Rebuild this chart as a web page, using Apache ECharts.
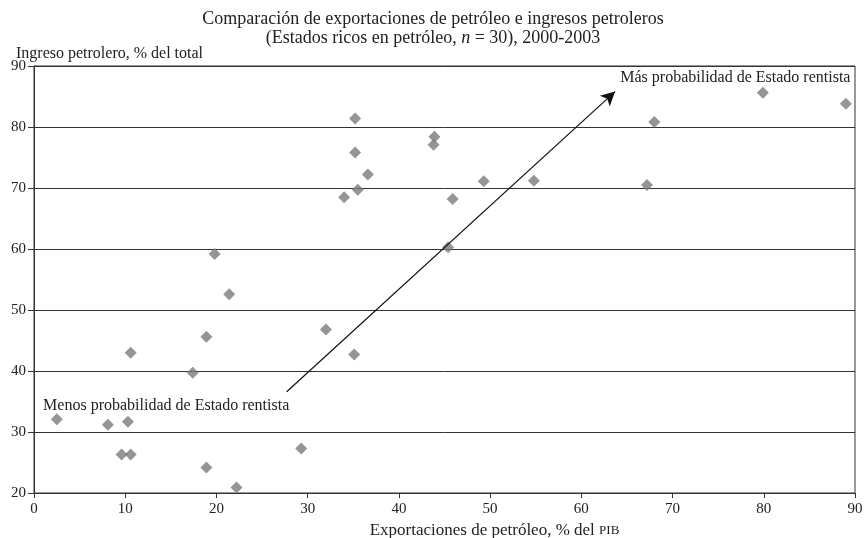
<!DOCTYPE html>
<html><head><meta charset="utf-8">
<script src="https://cdn.jsdelivr.net/npm/echarts@6/dist/echarts.min.js"></script>
<style>html,body{margin:0;padding:0;background:#fff}#c{width:866px;height:538px}</style>
</head><body><div id="c"></div>
<script>
const exportsPIB = [2.5, 8.1, 10.3, 9.6, 10.6, 18.9, 22.2, 29.3, 35.2, 43.9, 43.8, 35.2, 36.6, 49.3, 54.8, 35.5, 34.0, 45.9, 45.4, 19.8, 21.4, 18.9, 32.0, 35.1, 10.6, 17.4, 79.9, 89.0, 68.0, 67.2];
const oilIncome  = [32.1, 31.2, 31.7, 26.3, 26.3, 24.2, 20.9, 27.3, 81.4, 78.4, 77.1, 75.8, 72.2, 71.1, 71.2, 69.7, 68.5, 68.2, 60.3, 59.2, 52.6, 45.6, 46.8, 42.7, 43.0, 39.7, 85.6, 83.8, 80.8, 70.5];
const xTicks = [0, 10, 20, 30, 40, 50, 60, 70, 80, 90];
const yTicks = [20, 30, 40, 50, 60, 70, 80, 90];
const arrowFrom = [27.7, 36.6];
const arrowTo = [63.7, 85.8];
const noteHigh = {text: 'Más probabilidad de Estado rentista', at: [89.5, 88.1]};
const noteLow = {text: 'Menos probabilidad de Estado rentista', at: [1.0, 34.3]};
const titleText = 'Comparación de exportaciones de petróleo e ingresos petroleros\n(Estados ricos en petróleo, {i|n} = 30), 2000-2003';
const yName = 'Ingreso petrolero, % del total';

const FONT = 'Liberation Serif';
const chart = echarts.init(document.getElementById('c'), null, {renderer: 'canvas'});
chart.setOption({
  animation: false,
  backgroundColor: '#fff',
  title: [
    {text: titleText, left: 'center', top: 5,
     textStyle: {fontFamily: FONT, fontSize: 18, fontWeight: 'normal', color: '#222', lineHeight: 19,
       rich: {i: {fontFamily: FONT, fontSize: 18, fontStyle: 'italic', color: '#222', lineHeight: 19}}}},
    {text: yName, left: 11, top: 41,
     textStyle: {fontFamily: FONT, fontSize: 16, fontWeight: 'normal', color: '#222'}}
  ],
  grid: {left: 34, right: 11, top: 66, bottom: 45, containLabel: false, outerBoundsMode: 'none',
    show: true, borderColor: '#333', borderWidth: 1},
  xAxis: {
    type: 'value', min: xTicks[0], max: xTicks[xTicks.length - 1], interval: 10,
    name: 'Exportaciones de petróleo, % del {s|PIB}', nameLocation: 'middle', nameGap: 28,
    nameTextStyle: {fontFamily: FONT, fontSize: 17, color: '#222', padding: [0, 0, 0, 100],
      rich: {s: {fontFamily: FONT, fontSize: 13, color: '#222'}}},
    axisLine: {show: true, lineStyle: {color: '#333', width: 1}},
    axisTick: {show: true, length: 5, lineStyle: {color: '#333'}},
    axisLabel: {fontFamily: FONT, fontSize: 15, color: '#222', margin: 9},
    splitLine: {show: false}
  },
  yAxis: {
    type: 'value', min: yTicks[0], max: yTicks[yTicks.length - 1], interval: 10,
    axisLine: {show: true, lineStyle: {color: '#333', width: 1}},
    axisTick: {show: true, length: 6, lineStyle: {color: '#333'}},
    axisLabel: {fontFamily: FONT, fontSize: 15, color: '#222', margin: 8},
    splitLine: {show: true, lineStyle: {color: '#333', width: 1}}
  },
  series: [{
    type: 'scatter',
    symbol: 'diamond',
    symbolSize: [12, 12],
    itemStyle: {color: '#7b7b7b'},
    data: exportsPIB.map((x, i) => [x, oilIncome[i]]),
    markLine: {
      silent: true,
      symbol: ['none', 'arrow'],
      symbolSize: [11, 14],
      lineStyle: {color: '#111', width: 1.2, type: 'solid'},
      label: {show: false},
      data: [[{coord: arrowFrom}, {coord: arrowTo}]]
    },
    markPoint: {
      silent: true,
      symbolSize: 0,
      data: [
        {coord: noteHigh.at, label: {show: true, formatter: noteHigh.text, position: 'left', distance: 0,
          fontFamily: FONT, fontSize: 16, color: '#222'}},
        {coord: noteLow.at, label: {show: true, formatter: noteLow.text, position: 'right', distance: 0,
          fontFamily: FONT, fontSize: 16, color: '#222'}}
      ]
    }
  }]
});
</script></body></html>
